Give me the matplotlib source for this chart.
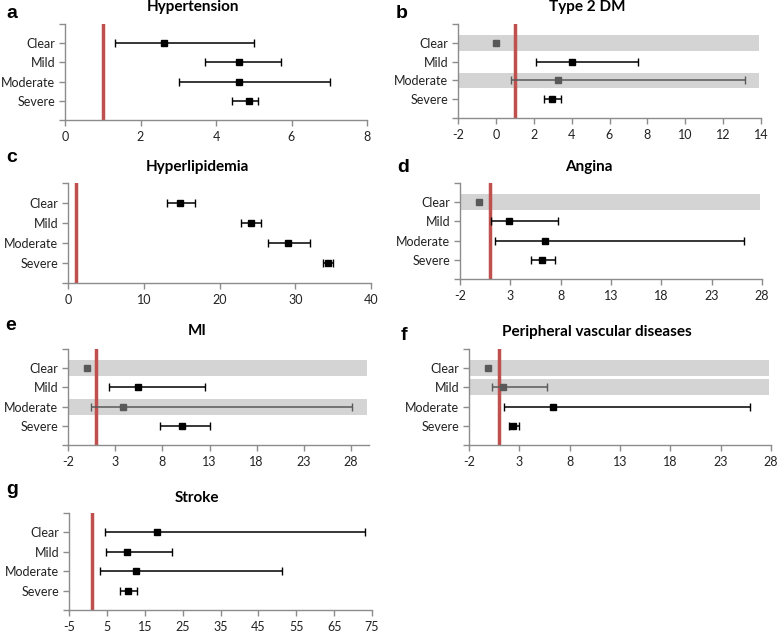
import matplotlib.pyplot as plt

categories = ["Clear", "Mild", "Moderate", "Severe"]

# odds ratios with 95% CI (None = no CI shown)
hyper_or = [2.61, 4.62, 4.61, 4.88]
hyper_lo = [1.33, 3.71, 3.02, 4.42]
hyper_hi = [5.01, 5.73, 7.03, 5.11]

dm_or = [0.0, 4.02, 3.26, 2.96]
dm_lo = [None, 2.14, 0.82, 2.52]
dm_hi = [None, 7.52, 13.14, 3.44]

lipid_or = [14.85, 24.1, 29.03, 34.36]
lipid_lo = [13.13, 22.78, 26.43, 33.7]
lipid_hi = [16.83, 25.42, 31.94, 35.02]

angina_or = [-0.08, 2.83, 6.44, 6.1]
angina_lo = [None, 1.08, 1.51, 5.05]
angina_hi = [None, 7.73, 26.25, 7.43]

mi_or = [-0.03, 5.43, 3.85, 10.08]
mi_lo = [None, 2.37, 0.46, 7.75]
mi_hi = [None, 12.5, 28.07, 13.1]

pvd_or = [-0.08, 1.4, 6.39, 2.39]
pvd_lo = [None, 0.28, 1.5, 1.93]
pvd_hi = [None, 5.73, 25.9, 2.99]

stroke_or = [18.15, 10.23, 12.6, 10.5]
stroke_lo = [4.5, 4.86, 3.1, 8.56]
stroke_hi = [73.2, 22.1, 51.3, 12.87]

# which rows are shaded (not significant)
dm_grey = ["Clear", "Moderate"]
angina_grey = ["Clear"]
mi_grey = ["Clear", "Moderate"]
pvd_grey = ["Clear", "Mild"]

W, H = 784, 636
FONT = "Lato"
AXCOL = "#8c8c8c"
RED = "#c0504d"
BAND = "#d4d4d4"


def forest(rect, letter, letter_xy, title, title_xy, vals, lo, hi, xlim, xticks, grey=()):
    x0, y0, x1, y1 = rect
    ax = fig.add_axes([x0 / W, 1 - y1 / H, (x1 - x0) / W, (y1 - y0) / H])
    ypos = list(range(1, len(categories) + 1))

    for cat, y in zip(categories, ypos):
        if cat in grey:
            ax.axhspan(y - 0.42, y + 0.42, xmin=0, xmax=0.995, color=BAND, lw=0, zorder=0)

    ax.axvline(1, color=RED, lw=2.5, zorder=1)

    for cat, y, v, l, h in zip(categories, ypos, vals, lo, hi):
        col = "#595959" if cat in grey else "black"
        if l is not None:
            ax.errorbar(v, y, xerr=[[v - l], [h - v]], fmt="none", ecolor=col,
                        elinewidth=1.1, capsize=2.6, capthick=1.0, zorder=2)
        ax.plot(v, y, "s", color=col, ms=5, zorder=3)

    ax.set_xlim(*xlim)
    ax.set_ylim(len(categories) + 1, 0)
    ax.set_xticks(xticks)
    ax.set_xticklabels([str(t) for t in xticks])
    ax.set_yticks([0] + ypos + [len(categories) + 1])
    ax.set_yticklabels([""] + categories + [""])
    for s in ["top", "right"]:
        ax.spines[s].set_visible(False)
    for s in ["left", "bottom"]:
        ax.spines[s].set_color(AXCOL)
        ax.spines[s].set_linewidth(1.0)
    ax.tick_params(axis="both", colors=AXCOL, length=4, width=1.0,
                   labelsize=9, labelcolor="#222222", direction="out")
    ax.tick_params(axis="y", pad=3)
    ax.tick_params(axis="x", pad=4)
    for lab in ax.get_xticklabels() + ax.get_yticklabels():
        lab.set_family(FONT)

    fig.text(title_xy[0] / W, 1 - title_xy[1] / H, title, ha="center", va="center",
             fontsize=11, fontweight="bold", family=FONT)
    fig.text(letter_xy[0] / W, 1 - letter_xy[1] / H, letter, ha="left", va="center",
             fontsize=14, fontweight="bold", family="Liberation Sans")
    return ax


fig = plt.figure(figsize=(W / 100, H / 100), dpi=100)

forest((65, 24, 367, 120), "a", (6, 13), "Hypertension", (193, 7),
       hyper_or, hyper_lo, hyper_hi, (0, 8), [0, 2, 4, 6, 8])
forest((458, 24, 761, 118), "b", (396, 13), "Type 2 DM", (587, 7),
       dm_or, dm_lo, dm_hi, (-2, 14), list(range(-2, 15, 2)), dm_grey)
forest((68, 183, 371, 283), "c", (6, 157), "Hyperlipidemia", (197, 167),
       lipid_or, lipid_lo, lipid_hi, (0, 40), [0, 10, 20, 30, 40])
forest((460, 183, 762, 279), "d", (397, 167), "Angina", (589, 167),
       angina_or, angina_lo, angina_hi, (-2, 28), list(range(-2, 29, 5)), angina_grey)
forest((68, 349, 369, 445), "e", (5, 325), "MI", (197, 331),
       mi_or, mi_lo, mi_hi, (-2, 29.9), list(range(-2, 29, 5)), mi_grey)
forest((469, 349, 771, 445), "f", (401, 335), "Peripheral vascular diseases", (597, 332),
       pvd_or, pvd_lo, pvd_hi, (-2, 28), list(range(-2, 29, 5)), pvd_grey)
forest((69, 513, 372, 610), "g", (6, 490), "Stroke", (197, 498),
       stroke_or, stroke_lo, stroke_hi, (-5, 75), list(range(-5, 76, 10)))

fig.savefig("out.png", dpi=100)
